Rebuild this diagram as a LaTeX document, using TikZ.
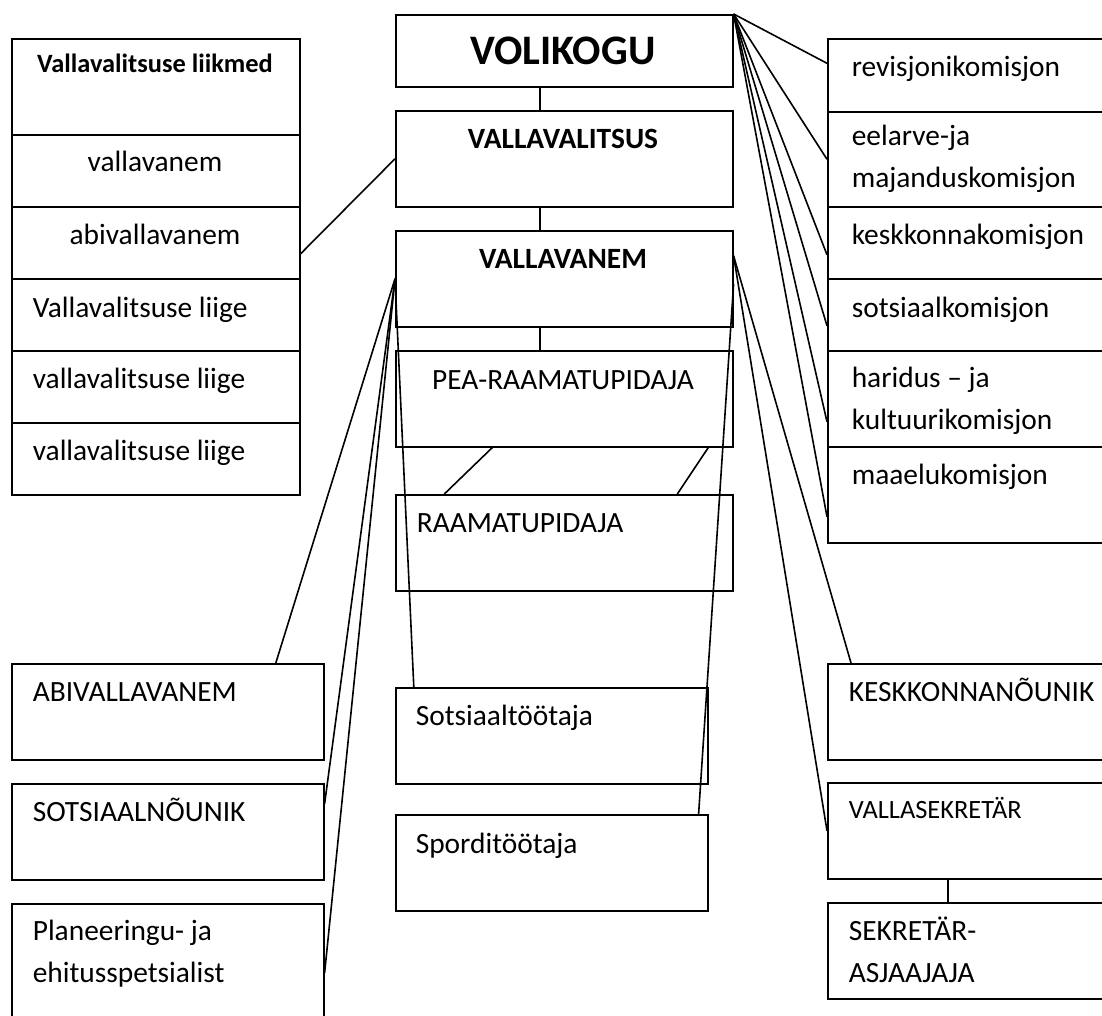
\documentclass[tikz,border=0pt]{standalone}
\usepackage{fontspec}
\setmainfont{Carlito}
\usetikzlibrary{calc}

\begin{document}
\begin{tikzpicture}[x=0.5pt,y=-0.5pt,line width=0.8pt,
    box/.style={draw,rectangle,inner sep=0pt,anchor=north west},
    tall/.style={box,minimum height=48pt},
    short/.style={box,minimum height=36pt},
    txt/.style={anchor=base west,inner sep=0pt,align=left,font=\fontsize{14.7}{21}\selectfont},
    ctxt/.style={txt,anchor=base},
    head/.style={ctxt,font=\bfseries\fontsize{14.7}{18}\selectfont}]
    \useasboundingbox (0,0) rectangle (1102,1016);
    % vallavalitsuse liikmed
    \node[tall,minimum width=144pt] (liikmed) at (11,38) {};
    \node[short,minimum width=144pt] (vvanem) at (11,134) {};
    \node[short,minimum width=144pt] (abivv) at (11,206) {};
    \foreach \i/\y in {1/278,2/350,3/422}
        \node[short,minimum width=144pt] (liige\i) at (11,\y) {};
    \node[head,font=\bfseries\fontsize{13.2}{16}\selectfont] (liikmed-t) at (155,73) {Vallavalitsuse liikmed};
    \node[ctxt] (vvanem-t) at (155,172) {vallavanem};
    \node[ctxt] (abivv-t) at (155,245) {abivallavanem};
    \node[txt] (liige1-t) at (32,317) {Vallavalitsuse liige};
    \node[txt] (liige2-t) at (32,388) {vallavalitsuse liige};
    \node[txt] (liige3-t) at (32,460) {vallavalitsuse liige};
    % keskmine veerg
    \node[short,minimum width=168.5pt] (volikogu) at (395,14) {};
    \node[tall,minimum width=168.5pt] (vallavalitsus) at (395,110) {};
    \node[tall,minimum width=168.5pt] (vallavanem) at (395,230) {};
    \node[tall,minimum width=168.5pt] (pearp) at (395,350) {};
    \node[tall,minimum width=168.5pt] (rp) at (395,494) {};
    \node[tall,minimum width=156pt] (sotstoo) at (395,687) {};
    \node[tall,minimum width=156pt] (sporttoo) at (395,814) {};
    \node[head,font=\bfseries\fontsize{21}{24}\selectfont] (volikogu-t) at (563,65) {VOLIKOGU};
    \node[head] (vallavalitsus-t) at (563,149) {VALLAVALITSUS};
    \node[head] (vallavanem-t) at (563,269) {VALLAVANEM};
    \node[ctxt] (pearp-t) at (563,389) {PEA-RAAMATUPIDAJA};
    \node[txt] (rp-t) at (416,532) {RAAMATUPIDAJA};
    \node[txt] (sotstoo-t) at (415,725) {Sotsiaaltöötaja};
    \node[txt] (sporttoo-t) at (415,853) {Sporditöötaja};
    % vasak alumine
    \node[tall,minimum width=156pt] (abi) at (11,663) {};
    \node[tall,minimum width=156pt] (sotsnou) at (11,783) {};
    \node[tall,minimum width=156pt,minimum height=64pt] (plan) at (11,903) {};
    \node[txt] (abi-t) at (32,701) {ABIVALLAVANEM};
    \node[txt] (sotsnou-t) at (32,821) {SOTSIAALNÕUNIK};
    \node[txt] (plan-t) at (32,982) {Planeeringu- ja\\ehitusspetsialist};
    % parem alumine
    \node[tall,minimum width=156pt] (keskknou) at (827,663) {};
    \node[tall,minimum width=156pt] (sekretar) at (827,782) {};
    \node[tall,minimum width=156pt] (asjaajaja) at (827,902) {};
    \node[txt] (keskknou-t) at (848,701) {KESKKONNANÕUNIK};
    \node[txt,font=\fontsize{13.2}{16}\selectfont] (sekretar-t) at (848,818) {VALLASEKRETÄR};
    \node[txt] (asjaajaja-t) at (848,982) {SEKRETÄR-\\ASJAAJAJA};
    % komisjonid
    \node[box,minimum width=156pt,minimum height=36.5pt] (revisjon) at (827,38) {};
    \node[box,minimum width=156pt,minimum height=47.5pt] (eelarve) at (827,111) {};
    \node[short,minimum width=156pt] (keskkkom) at (827,206) {};
    \node[short,minimum width=156pt] (sotskom) at (827,278) {};
    \node[tall,minimum width=156pt] (haridus) at (827,350) {};
    \node[tall,minimum width=156pt] (maaelu) at (827,446) {};
    \node[txt] (revisjon-t) at (851,77) {revisjonikomisjon};
    \node[txt] (eelarve-t) at (851,188) {eelarve-ja\\majanduskomisjon};
    \node[txt] (keskkkom-t) at (851,245) {keskkonnakomisjon};
    \node[txt] (sotskom-t) at (851,317) {sotsiaalkomisjon};
    \node[txt] (haridus-t) at (851,429) {haridus -- ja\\kultuurikomisjon};
    \node[txt] (maaelu-t) at (851,484) {maaelukomisjon};
    % seosed
    \draw ([xshift=-12.25pt]volikogu.south) -- ([xshift=-12.25pt]vallavalitsus.north);
    \draw ([xshift=-12.25pt]vallavalitsus.south) -- ([xshift=-12.25pt]vallavanem.north);
    \draw ([xshift=-12.25pt]vallavanem.south) -- ([xshift=-12.25pt]pearp.north);
    \draw ([xshift=-36pt]pearp.south) -- ([xshift=-60pt]rp.north);
    \draw ([xshift=72pt]pearp.south) -- ([xshift=56.5pt]rp.north);
    \draw ([yshift=-5.5pt]abivv.east) -- (vallavalitsus.west);
    \foreach \k/\s in {revisjon/6pt,eelarve/0pt,keskkkom/-6pt,sotskom/-5.5pt,haridus/-11.5pt,maaelu/-11pt}
        \draw (volikogu.north east) -- ([yshift=\s]\k.west);
    \draw (vallavanem.west) -- ([xshift=54pt]abi.north);
    \draw (vallavanem.west) -- ([yshift=14pt]sotsnou.east);
    \draw (vallavanem.west) -- ([yshift=-35pt]plan.north east);
    \draw (vallavanem.west) -- ([xshift=-69pt]sotstoo.north);
    \draw ([yshift=11.5pt]vallavanem.east) -- ([xshift=12pt]keskknou.north west);
    \draw ([yshift=11.5pt]vallavanem.east) -- (sekretar.west);
    \draw ([yshift=-2.5pt]vallavanem.east) -- ([xshift=-5pt]sporttoo.north east);
    \draw ([xshift=-18pt]sekretar.south) -- ([xshift=-18pt]asjaajaja.north);
\end{tikzpicture}
\end{document}
